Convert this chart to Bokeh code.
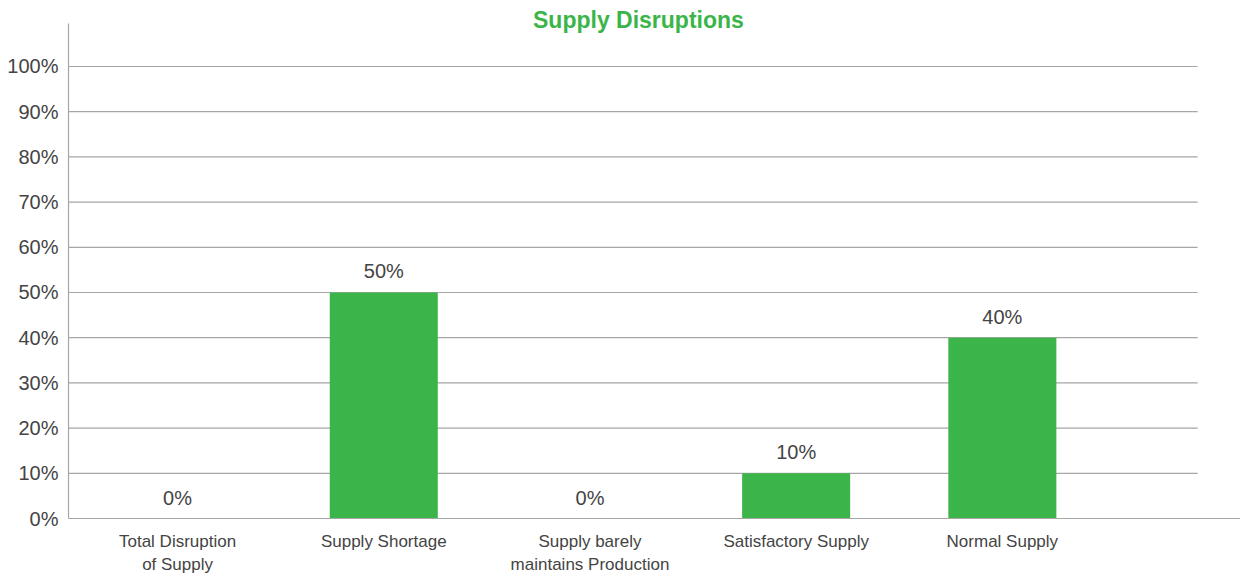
from bokeh.plotting import figure
from bokeh.models import Range1d, FixedTicker, Label
from bokeh.core.properties import value
from bokeh.embed import file_html
from bokeh.resources import INLINE

# ---- data ----
categories = [
    "Total Disruption\nof Supply",
    "Supply Shortage",
    "Supply barely\nmaintains Production",
    "Satisfactory Supply",
    "Normal Supply",
]
shares = [0, 50, 0, 10, 40]
y_ticks = [0, 10, 20, 30, 40, 50, 60, 70, 80, 90, 100]
title_text = "Supply Disruptions"

GREEN = "#3bb54a"
GRAY = "#a6a6a6"
TEXT = "#444444"
FONT = "Liberation Sans"

xs = list(range(len(categories)))
x_start, x_end = -0.529, 5.155
grid_end = 4.947
y_top_axis = 109.5

p = figure(
    width=1240, height=577,
    x_range=Range1d(x_start, x_end), y_range=Range1d(0, 114.6),
    output_backend="svg", toolbar_location=None,
    min_border_left=68, min_border_right=0, min_border_top=0, min_border_bottom=59,
)
p.outline_line_color = None
p.background_fill_color = "white"
p.border_fill_color = "white"
p.xgrid.grid_line_color = None
p.ygrid.grid_line_color = None

# horizontal gridlines (ending before the right edge, as in the reference)
p.segment(x0=[x_start] * (len(y_ticks) - 1), x1=[grid_end] * (len(y_ticks) - 1),
          y0=y_ticks[1:], y1=y_ticks[1:], line_color=GRAY, line_width=1.2)

# bars
p.vbar(x=xs, top=shares, width=0.524, bottom=0, fill_color=GREEN, line_color=None)

# value labels
p.text(x=xs, y=shares, text=[f"{v}%" for v in shares],
       text_align="center", text_baseline="alphabetic", y_offset=-21,
       text_font=value(FONT), text_font_size="20px", text_color=TEXT)

# y axis
ya = p.yaxis[0]
ya.ticker = FixedTicker(ticks=y_ticks)
ya.bounds = (0, y_top_axis)
ya.major_label_overrides = {t: f"{t}%" for t in y_ticks}
ya.major_tick_line_color = None
ya.minor_tick_line_color = None
ya.major_tick_out = 0
ya.major_tick_in = 0
ya.axis_line_color = GRAY
ya.axis_line_width = 1.2
ya.major_label_standoff = 10
ya.major_label_text_font = FONT
ya.major_label_text_font_size = "20px"
ya.major_label_text_color = TEXT

# x axis
xa = p.xaxis[0]
xa.ticker = FixedTicker(ticks=xs)
xa.major_label_overrides = {i: c for i, c in zip(xs, categories)}
xa.major_tick_line_color = None
xa.minor_tick_line_color = None
xa.major_tick_out = 0
xa.major_tick_in = 0
xa.axis_line_color = GRAY
xa.axis_line_width = 1.2
xa.major_label_standoff = 13
xa.major_label_text_font = FONT
xa.major_label_text_font_size = "17px"
xa.major_label_text_color = TEXT
xa.major_label_text_line_height = 1.25

# title
p.add_layout(Label(x=2.235, y=110.2, text=title_text, text_align="center",
                   text_baseline="middle", text_font=FONT, text_font_size="23px",
                   text_font_style="bold", text_color=GREEN))

open("out.html", "w").write(file_html(p, INLINE))
